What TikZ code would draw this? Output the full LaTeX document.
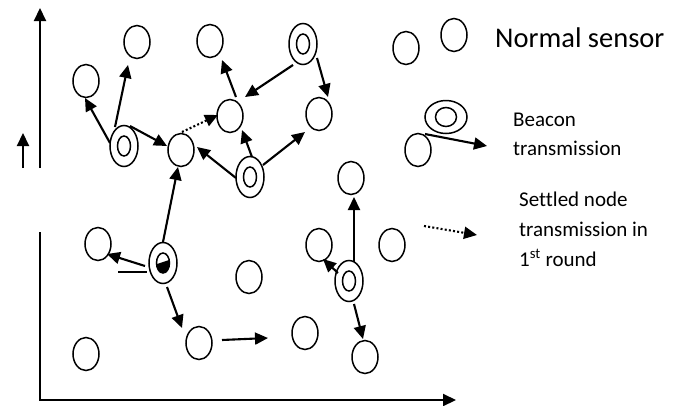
\documentclass[tikz,border=0pt]{standalone}
\usepackage{fontspec}
\setmainfont[Ligatures=NoCommon]{Carlito}
\usetikzlibrary{arrows.meta,shapes.geometric}
\begin{document}
\begin{tikzpicture}[x=1pt,y=-1pt,
  sensor/.style={ellipse,draw,line width=1.5pt,minimum width=26pt,minimum height=33pt,inner sep=0pt},
  beacon/.style={ellipse,draw,line width=1.5pt,minimum width=28pt,minimum height=41pt,inner sep=0pt},
  beaconin/.style={ellipse,draw,line width=1.5pt,minimum width=13pt,minimum height=20pt,inner sep=0pt},
  arr/.style={line width=2.1pt,-{Triangle[length=13pt,width=12pt]}},
  dotarr/.style={line width=2.1pt,dash pattern=on 2pt off 2.2pt,-{Triangle[length=13pt,width=12pt]}},
  plain/.style={line width=2.1pt},
  bigtext/.style={anchor=base west,inner sep=0pt,font=\fontsize{28.5}{34}\selectfont},
  legtext/.style={anchor=base west,inner sep=0pt,font=\fontsize{21}{26}\selectfont}
]
\useasboundingbox (0,0) rectangle (683,405);

% axes
\coordinate (ya0) at (40,168);
\coordinate (ya1) at (40,8);
\coordinate (sa0) at (23,168);
\coordinate (sa1) at (23,133);
\coordinate (yb0) at (40,232);
\coordinate (org) at (40,400);
\coordinate (xa1) at (456,400);
\draw[arr] (ya0) -- (ya1);
\draw[arr] (sa0) -- (sa1);
\draw[plain] (yb0) -- (org);
\draw[arr] ([xshift=-1pt]org) -- (xa1);

% normal sensors
\node[sensor] (n1) at (137,42) {};
\node[sensor] (n2) at (210,41) {};
\node[sensor] (n4) at (86,81) {};
\node[sensor] (n5) at (230,116) {};
\node[sensor] (n6) at (319,114) {};
\node[sensor] (n8) at (181,150) {};
\node[sensor] (n10) at (351,178) {};
\node[sensor] (n11) at (98,244) {};
\node[sensor] (n13) at (86,354) {};
\node[sensor] (n14) at (199,343) {};
\node[sensor] (n15) at (249,277) {};
\node[sensor] (n16) at (319,245) {};
\node[sensor] (n19) at (305,333) {};
\node[sensor] (n20) at (365,357) {};

% beacons
\node[beacon] (b3) at (303,44) {};
\node[beaconin] (b3i) at (b3) {};
\node[beacon] (b7) at (124,146) {};
\node[beaconin] (b7i) at (b7) {};
\node[beacon] (b9) at (250,177) {};
\node[beaconin] (b9i) at (b9) {};
\node[beacon] (b12) at (163,263) {};
\node[beaconin] (b12i) at (b12) {};
\node[beacon] (b17) at (349,281) {};
\node[beaconin] (b17i) at (b17) {};
\begin{scope}
  \clip (b12i.center) ellipse [x radius=6.5pt, y radius=10pt];
  \fill ([shift={(-9,2)}]b12i.center) -- ([shift={(9,-4)}]b12i.center) -- ([shift={(9,12)}]b12i.center) -- ([shift={(-9,12)}]b12i.center) -- cycle;
\end{scope}

% connectors
\draw[arr] ([shift={(-14,-3)}]b7.center) -- ([shift={(-1,17)}]n4.center);
\draw[arr] ([shift={(-9,-19)}]b7.center) -- ([shift={(-9,23)}]n1.center);
\draw[arr] ([shift={(6,-20)}]b7.center) -- ([shift={(-14,-4)}]n8.center);
\draw[dotarr] ([shift={(1,-18)}]n8.center) -- ([shift={(-12,-1)}]n5.center);
\draw[arr] ([shift={(-10,21)}]b3.center) -- ([shift={(15,-19)}]n5.center);
\draw[arr] ([shift={(14,14)}]b3.center) -- ([shift={(9,-17)}]n6.center);
\draw[arr] ([shift={(6,-19)}]n5.center) -- ([shift={(12,19)}]n2.center);
\draw[arr] ([shift={(-14,1)}]b9.center) -- ([shift={(16,-3)}]n8.center);
\draw[arr] ([shift={(2,-20)}]b9.center) -- ([shift={(12,14)}]n5.center);
\draw[arr] ([shift={(13,-12)}]b9.center) -- ([shift={(-14,18)}]n6.center);
\draw[arr] ([shift={(0,-21)}]b12.center) -- ([shift={(-3,17)}]n8.center);
\draw[arr] ([shift={(-18,3)}]b12.center) -- ([shift={(9,10)}]n11.center);
\draw[plain] ([shift={(-45,9)}]b12.center) -- ([shift={(-16,9)}]b12.center);
\draw[arr] ([shift={(4,24)}]b12.center) -- ([shift={(-17,-15)}]n14.center);
\draw[arr] ([shift={(23,-3)}]n14.center) -- ([shift={(69,-5)}]n14.center);
\draw[arr] ([shift={(5,-19)}]b17.center) -- ([shift={(3,19)}]n10.center);
\draw[arr] ([shift={(-11,-8)}]b17.center) -- ([shift={(4,14)}]n16.center);
\draw[arr] ([shift={(5,23)}]b17.center) -- ([shift={(-2,-18)}]n20.center);

% legend
\node[sensor] (L1) at (406,48) {};
\node[sensor] (L2) at (454,35) {};
\node[bigtext] (t1) at (495,47) {Normal sensor};

\node[ellipse,draw,line width=1.5pt,minimum width=42pt,minimum height=33pt,inner sep=0pt] (Lb) at (446,117) {};
\node[ellipse,draw,line width=1.5pt,minimum width=21pt,minimum height=19pt,inner sep=0pt] (Lbi) at (Lb) {};
\node[sensor] (L3) at (418,150) {};
\coordinate (Lbt) at (487,146);
\draw[arr] ([shift={(-21,17)}]Lb.center) -- (Lbt);
\node[legtext] (t2) at (513,126) {Beacon};
\node[legtext] (t3) at (513,155) {transmission};

\node[sensor] (L4) at (392,245) {};
\coordinate (Ld0) at (424,226);
\coordinate (Ld1) at (477,235);
\draw[dotarr] (Ld0) -- (Ld1);
\node[legtext] (t4) at (519,206) {Settled node};
\node[legtext] (t5) at (519,236) {transmission in};
\node[legtext] (t6) at (519,266) {1\textsuperscript{st} round};
\end{tikzpicture}
\end{document}
